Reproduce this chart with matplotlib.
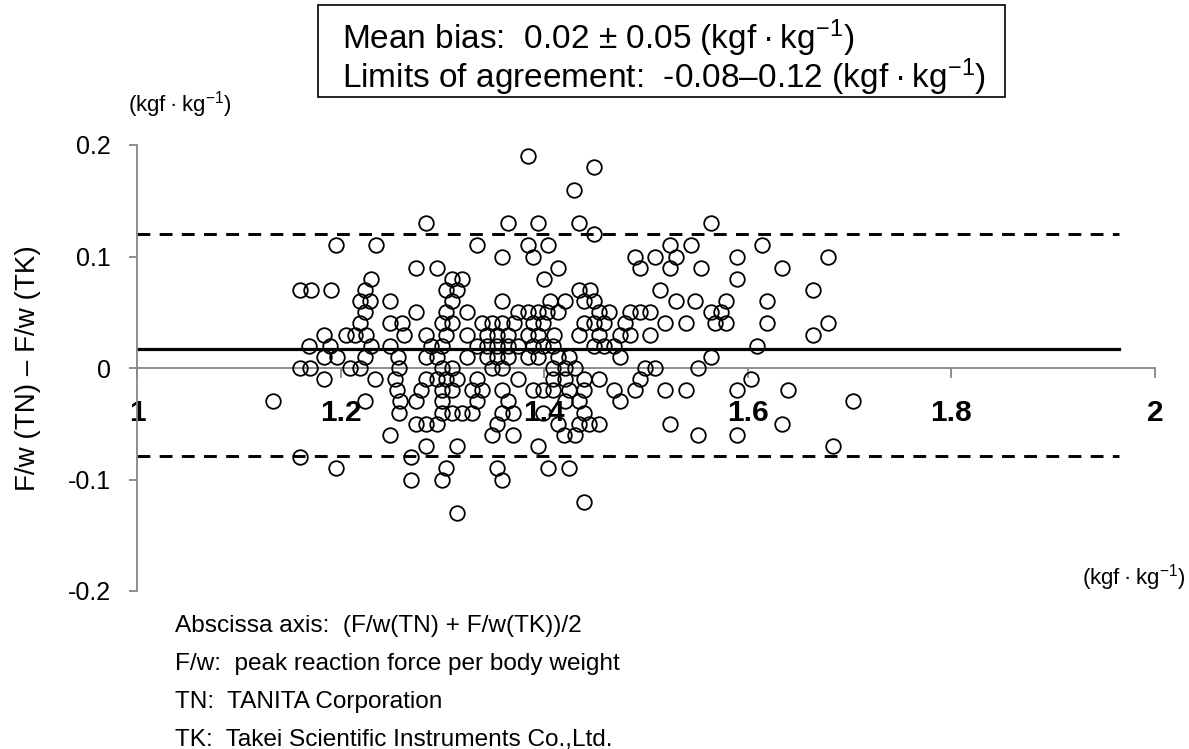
import numpy as np
import matplotlib.pyplot as plt

plt.rcParams['font.family'] = ['Liberation Sans', 'DejaVu Sans']
plt.rcParams['mathtext.fontset'] = 'custom'
plt.rcParams['mathtext.rm'] = 'Liberation Sans'
plt.rcParams['mathtext.it'] = 'Liberation Sans'

points_by_diff = {
    0.19: [1.384],
    0.18: [1.449],
    0.16: [1.429],
    0.13: [1.284, 1.364, 1.394, 1.434, 1.564],
    0.12: [1.449],
    0.11: [1.195, 1.235, 1.334, 1.384, 1.404, 1.524, 1.544, 1.614],
    0.10: [1.359, 1.389, 1.489, 1.509, 1.529, 1.589, 1.679],
    0.09: [1.274, 1.295, 1.414, 1.494, 1.524, 1.554, 1.634],
    0.08: [1.230, 1.309, 1.319, 1.400, 1.589],
    0.07: [1.160, 1.171, 1.191, 1.224, 1.304, 1.314, 1.434, 1.445, 1.514, 1.664],
    0.06: [1.219, 1.229, 1.249, 1.309, 1.359, 1.406, 1.420, 1.439, 1.449,
           1.529, 1.548, 1.579, 1.619],
    0.05: [1.224, 1.274, 1.304, 1.324, 1.374, 1.384, 1.394, 1.403, 1.414,
           1.454, 1.464, 1.484, 1.494, 1.504, 1.564, 1.574],
    0.04: [1.219, 1.249, 1.260, 1.300, 1.309, 1.339, 1.349, 1.359, 1.370,
           1.389, 1.399, 1.439, 1.449, 1.459, 1.479, 1.519, 1.539, 1.568,
           1.579, 1.619, 1.679],
    0.03: [1.184, 1.205, 1.214, 1.225, 1.262, 1.284, 1.304, 1.324, 1.344,
           1.354, 1.364, 1.384, 1.394, 1.410, 1.434, 1.454, 1.474, 1.484,
           1.504, 1.664],
    0.02: [1.169, 1.190, 1.230, 1.249, 1.289, 1.300, 1.334, 1.344, 1.354,
           1.364, 1.374, 1.389, 1.399, 1.409, 1.449, 1.459, 1.469, 1.609],
    0.01: [1.184, 1.196, 1.224, 1.256, 1.284, 1.295, 1.324, 1.344, 1.354,
           1.364, 1.384, 1.394, 1.414, 1.424, 1.474, 1.564],
    0.00: [1.160, 1.170, 1.209, 1.219, 1.257, 1.300, 1.309, 1.349, 1.359,
           1.409, 1.420, 1.430, 1.499, 1.509, 1.551],
    -0.01: [1.184, 1.234, 1.253, 1.284, 1.295, 1.304, 1.314, 1.334, 1.374,
            1.409, 1.420, 1.439, 1.454, 1.494, 1.603],
    -0.02: [1.255, 1.279, 1.300, 1.309, 1.329, 1.339, 1.359, 1.389, 1.399,
            1.409, 1.424, 1.439, 1.469, 1.489, 1.519, 1.539, 1.589, 1.639],
    -0.03: [1.134, 1.224, 1.258, 1.274, 1.300, 1.334, 1.364, 1.420, 1.434,
            1.474, 1.703],
    -0.04: [1.257, 1.300, 1.309, 1.319, 1.329, 1.359, 1.369, 1.399, 1.439],
    -0.05: [1.274, 1.284, 1.295, 1.354, 1.414, 1.434, 1.444, 1.454, 1.524, 1.634],
    -0.06: [1.249, 1.349, 1.369, 1.419, 1.430, 1.551, 1.589],
    -0.07: [1.284, 1.314, 1.394, 1.684],
    -0.08: [1.160, 1.269],
    -0.09: [1.195, 1.304, 1.354, 1.404, 1.424],
    -0.10: [1.269, 1.300, 1.359],
    -0.12: [1.439],
    -0.13: [1.314],
}

mean_bias = 0.017
upper_loa = 0.12
lower_loa = -0.079
line_x = [1.0, 1.965]

xticks = [1, 1.2, 1.4, 1.6, 1.8, 2]
xtick_labels = ['1', '1.2', '1.4', '1.6', '1.8', '2']
yticks = [-0.2, -0.1, 0, 0.1, 0.2]
ytick_labels = ['-0.2', '-0.1', '0', '0.1', '0.2']

notes = [
    'Abscissa axis:  (F/w(TN) + F/w(TK))/2',
    'F/w:  peak reaction force per body weight',
    'TN:  TANITA Corporation',
    'TK:  Takei Scientific Instruments Co.,Ltd.',
]

unit = '(kgf\u2009·\u2009kg$^{-1}$)'

xs, ys = [], []
for d, vals in points_by_diff.items():
    for v in vals:
        xs.append(v)
        ys.append(d)

W, H = 1189, 749
fig = plt.figure(figsize=(W / 100, H / 100), dpi=100)
ax = fig.add_axes([137 / W, 1 - 591 / H, 1018 / W, 446 / H])

ax.plot(line_x, [upper_loa, upper_loa], color='black', lw=2.1, dashes=(4.4, 3.2))
ax.plot(line_x, [lower_loa, lower_loa], color='black', lw=2.1, dashes=(4.4, 3.2))
ax.plot(line_x, [mean_bias, mean_bias], color='black', lw=2.3)
ax.plot(xs, ys, 'o', ms=10.5, mfc='none', mec='black', mew=1.3, zorder=3)

ax.set_xlim(1, 2)
ax.set_ylim(-0.2, 0.2)
for s in ['top', 'right']:
    ax.spines[s].set_visible(False)
ax.spines['bottom'].set_position(('data', 0))
ax.spines['bottom'].set_color('#868686')
ax.spines['left'].set_color('#868686')
ax.spines['bottom'].set_linewidth(1.3)
ax.spines['left'].set_linewidth(1.3)

ax.set_xticks(xticks)
ax.set_xticklabels(xtick_labels, fontsize=21.5, fontweight='bold')
ax.set_yticks(yticks)
ax.set_yticklabels(ytick_labels, fontsize=18)
ax.tick_params(axis='x', direction='out', length=7, width=1.3, color='#868686', pad=15.5)
ax.tick_params(axis='y', direction='out', length=6, width=1.3, color='#868686', pad=13)

ax.set_ylabel('F/w (TN) – F/w (TK)', fontsize=20)
ax.yaxis.set_label_coords(-0.094, 0.5)

# unit labels
fig.text(128 / W, 1 - 105 / H, unit, fontsize=16, va='center', ha='left')
fig.text(1185 / W, 1 - 578 / H, unit, fontsize=16, va='center', ha='right')

# summary box
fig.patches.append(plt.Rectangle((318 / W, 1 - 97 / H), 687 / W, 92 / H,
                                 transform=fig.transFigure, fill=False,
                                 edgecolor='black', lw=1.2))
fig.text(342 / W, 1 - 38 / H, 'Mean bias:  0.02 ± 0.05 (kgf\u2009·\u2009kg$^{-1}$)',
         fontsize=24, va='center', ha='left')
fig.text(342 / W, 1 - 77 / H, 'Limits of agreement:  -0.08–0.12 (kgf\u2009·\u2009kg$^{-1}$)',
         fontsize=24, va='center', ha='left')

for i, t in enumerate(notes):
    fig.text(175 / W, 1 - (626 + 38 * i) / H, t, fontsize=17.6, va='center', ha='left')

fig.savefig('out.png', dpi=100)
